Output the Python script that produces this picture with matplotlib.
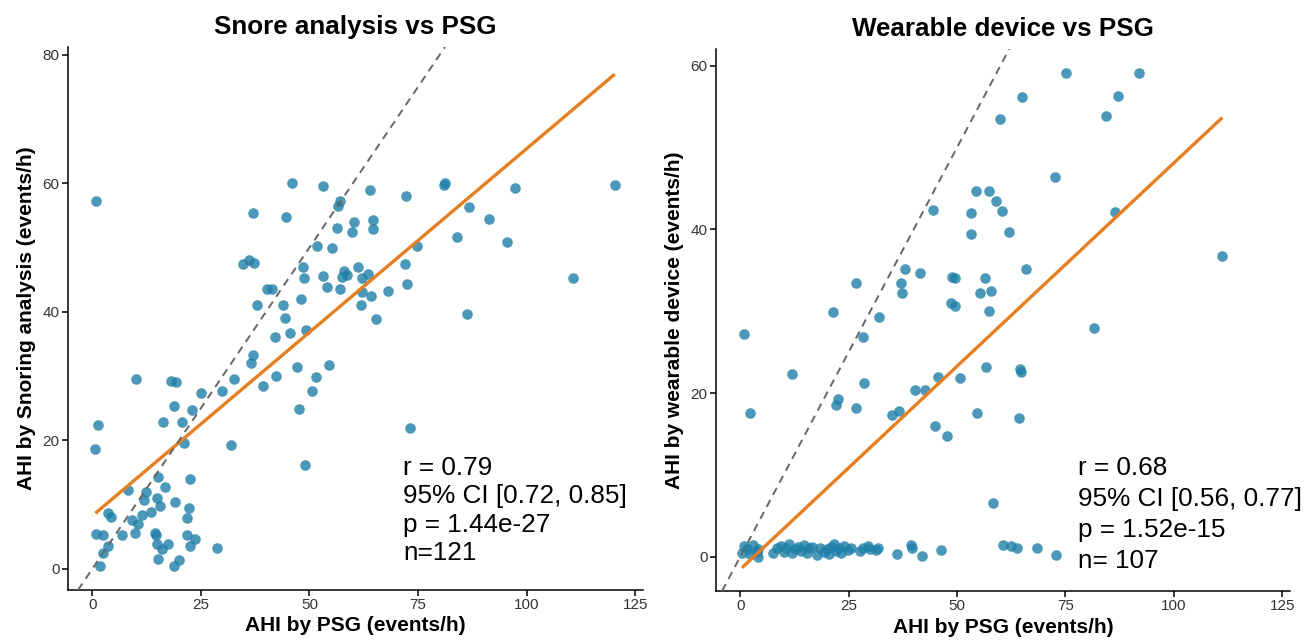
import numpy as np
import matplotlib
matplotlib.use("Agg")
import matplotlib.pyplot as plt

plt.rcParams['font.family'] = ['Liberation Sans', 'DejaVu Sans']

# snore analysis vs PSG (AHI, events/h)
snore_psg = [0.9, 45.9, 53.2, 36.9, 44.7, 57.0, 56.5, 56.3, 60.2, 59.7, 51.8, 55.1, 34.7, 36.0,
             37.3, 48.6, 48.8, 53.1, 58.0, 58.6, 57.6, 54.1, 57.1, 61.1, 62.0, 61.8, 40.2, 41.4,
             37.9, 44.0, 48.1, 44.3, 42.0, 45.6, 49.1, 37.0, 36.5, 47.1, 54.4, 42.4, 51.6, 32.6,
             39.3, 50.5, 29.8, 25.1, 10.0, 18.1, 19.2, 18.8, 23.0, 47.6, 1.2, 0.7, 16.3, 20.7,
             21.2, 31.9, 49.0, 15.1, 22.4, 16.7, 8.1, 12.3, 12.0, 14.8, 19.0, 15.6, 3.7, 4.3,
             11.5, 13.4, 22.2, 21.9, 9.2, 10.6, 9.9, 6.8, 0.8, 2.4, 14.5, 14.6, 21.7, 23.6,
             14.8, 17.4, 22.6, 16.0, 3.6, 2.4, 28.6, 15.1, 20.0, 18.7, 1.8, 64.0, 72.3, 80.9,
             81.3, 97.4, 120.3, 86.7, 64.6, 64.6, 91.3, 83.9, 95.5, 74.8, 63.5, 72.0, 72.5,
             62.2, 64.2, 68.0, 65.4, 86.2, 110.6, 73.2]
snore_ahi = [57.2, 60.0, 59.5, 55.4, 54.7, 57.2, 56.4, 53.1, 53.9, 52.4, 50.3, 49.9, 47.5, 48.0,
             47.6, 47.0, 45.3, 45.5, 46.4, 45.7, 45.4, 43.8, 43.6, 46.9, 45.2, 41.1, 43.5, 43.6,
             41.0, 41.1, 42.0, 39.0, 36.1, 36.7, 37.2, 33.3, 32.1, 31.4, 31.7, 30.0, 29.9, 29.6,
             28.4, 27.7, 27.7, 27.4, 29.5, 29.3, 29.0, 25.4, 24.7, 24.9, 22.4, 18.6, 22.9, 22.8,
             19.5, 19.2, 16.1, 14.3, 13.9, 12.7, 12.3, 11.9, 10.7, 11.0, 10.4, 9.7, 8.7, 8.1,
             8.4, 8.8, 9.4, 7.9, 7.6, 6.9, 5.5, 5.2, 5.4, 5.2, 5.6, 5.2, 5.3, 4.6,
             3.9, 3.9, 3.5, 3.1, 3.6, 2.5, 3.2, 1.6, 1.4, 0.5, 0.5, 58.9, 58.0, 59.8,
             60.0, 59.2, 59.8, 56.3, 54.3, 52.9, 54.5, 51.7, 50.8, 50.2, 45.9, 47.5, 44.3,
             43.1, 42.4, 43.2, 38.9, 39.7, 45.3, 21.9]

# wearable device vs PSG (AHI, events/h)
wear_psg = [75.1, 91.9, 64.9, 87.2, 60.0, 84.4, 72.7, 54.3, 57.3, 59.0, 60.4, 53.3, 53.3, 62.0,
            86.5, 111.2, 65.8, 48.9, 49.6, 56.4, 55.4, 57.9, 48.7, 49.5, 57.3, 81.6, 56.7, 64.5,
            64.8, 64.4, 54.5, 58.4, 44.5, 38.1, 41.4, 37.0, 37.3, 26.8, 21.3, 32.1, 0.8, 28.2,
            11.9, 28.5, 45.7, 50.6, 40.3, 42.5, 22.6, 22.1, 26.8, 34.9, 36.7, 2.3, 45.0, 47.8,
            60.6, 62.4, 63.9, 68.4, 72.8, 36.2, 39.3, 39.5, 42.0, 46.3,
            0.4, 0.8, 1.6, 2.2, 3.0, 3.8, 4.0, 4.2,
            7.5, 8.5, 9.3, 10.0, 10.6, 11.2, 12.0, 12.6, 13.3, 14.0, 14.6, 15.3, 15.9, 16.5,
            17.8, 18.5, 19.2, 19.9, 20.4, 21.0, 21.6, 22.1, 22.7, 23.3, 24.0, 24.8, 25.6, 27.6, 28.3,
            29.4, 30.0, 31.2, 31.8]
wear_ahi = [59.1, 59.1, 56.2, 56.3, 53.5, 53.8, 46.4, 44.7, 44.7, 43.5, 42.3, 42.0, 39.4, 39.7,
            42.1, 36.7, 35.2, 34.2, 34.1, 34.0, 32.2, 32.5, 31.0, 30.6, 30.0, 27.9, 23.2, 22.9,
            22.6, 17.0, 17.5, 6.5, 42.4, 35.1, 34.7, 33.4, 32.2, 33.5, 29.9, 29.3, 27.2, 26.8,
            22.3, 21.2, 22.0, 21.8, 20.4, 20.4, 19.3, 18.5, 18.2, 17.3, 17.8, 17.6, 16.0, 14.8,
            1.4, 1.3, 1.0, 1.1, 0.2, 0.3, 1.4, 1.0, 0.1, 0.8,
            0.4, 1.3, 0.9, 0.3, 1.4, 0.6, 0.0, 0.9,
            0.5, 1.0, 1.3, 0.6, 1.1, 1.5, 0.4, 0.9, 1.2, 0.7, 1.4, 0.5, 1.0, 1.2,
            0.2, 1.1, 0.6, 0.9, 0.3, 1.2, 1.5, 0.7, 1.0, 0.4, 1.3, 0.8, 1.1, 0.7, 1.0,
            1.3, 0.9, 0.8, 1.1]

titles = ["Snore analysis vs PSG", "Wearable device vs PSG"]
ylabels = ["AHI by Snoring analysis (events/h)", "AHI by wearable device (events/h)"]
stats = [["r = 0.79", "95% CI [0.72, 0.85]", "p = 1.44e-27", "n=121"],
         ["r = 0.68", "95% CI [0.56, 0.77]", "p = 1.52e-15", "n= 107"]]

point_col = '#1f7fa8'
line_col = '#e67e22'

fig = plt.figure(figsize=(13.08, 6.42), dpi=100)
ax1 = fig.add_axes([0.052, 0.081, 0.4396, 0.8458])
ax2 = fig.add_axes([0.5474, 0.0794, 0.4388, 0.845])

panels = [(ax1, snore_psg, snore_ahi, (-3.3, 81.2), [0, 20, 40, 60, 80], 71.6, 0.212, 0.0523),
          (ax2, wear_psg, wear_ahi, (-4.2, 62.1), [0, 20, 40, 60], 77.8, 0.214, 0.0573)]

for i, (ax, xs, ys, ylim, yt, tx, ty, dy) in enumerate(panels):
    xs = np.array(xs)
    ys = np.array(ys)
    ax.scatter(xs, ys, s=58, color=point_col, alpha=0.8, linewidths=0, zorder=2)
    # linear fit over the data range
    slope, icpt = np.polyfit(xs, ys, 1)
    xx = np.array([xs.min(), xs.max()])
    ax.plot(xx, icpt + slope * xx, color=line_col, lw=2.4, zorder=3, solid_capstyle='butt')
    ax.axline((0, 0), slope=1, color='#666666', lw=1.4, ls=(0, (4, 3)), zorder=3)

    ax.set_xlim(-5.6, 126.8)
    ax.set_ylim(*ylim)
    ax.set_xticks([0, 25, 50, 75, 100, 125])
    ax.set_yticks(yt)
    for sp in ['top', 'right']:
        ax.spines[sp].set_visible(False)
    for sp in ['left', 'bottom']:
        ax.spines[sp].set_linewidth(1.1)
    ax.tick_params(length=4, width=1.1, labelsize=11, labelcolor='#333333', pad=2)
    ax.set_title(titles[i], fontsize=18.7, fontweight='bold', pad=9)
    ax.set_xlabel("AHI by PSG (events/h)", fontsize=15, fontweight='bold', labelpad=3)
    ax.set_ylabel(ylabels[i], fontsize=15, fontweight='bold', labelpad=5)

    for k, s in enumerate(stats[i]):
        ax.text(tx, 0, s, transform=ax.get_xaxis_transform(), fontsize=18.8,
                va='baseline', ha='left')
        ax.texts[-1].set_y(ty - k * dy)

fig.savefig("out.png", dpi=100)
